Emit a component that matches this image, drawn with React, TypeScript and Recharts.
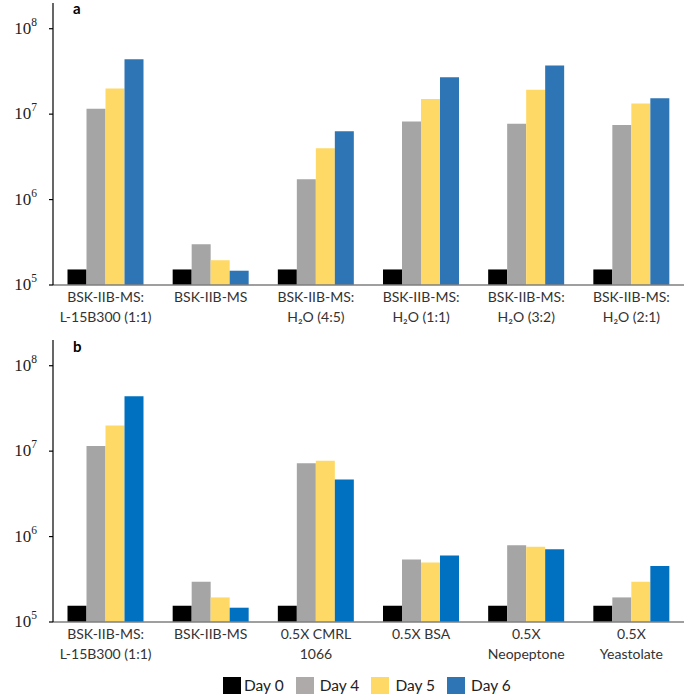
import React from "react";
import { BarChart, Bar, XAxis, YAxis } from "recharts";

const categoriesA = [
  "BSK-IIB-MS:\nL-15B300 (1:1)",
  "BSK-IIB-MS",
  "BSK-IIB-MS:\nH₂O (4:5)",
  "BSK-IIB-MS:\nH₂O (1:1)",
  "BSK-IIB-MS:\nH₂O (3:2)",
  "BSK-IIB-MS:\nH₂O (2:1)",
];
const day0A = [1.52e5, 1.52e5, 1.52e5, 1.52e5, 1.52e5, 1.52e5];
const day4A = [1.16e7, 3.0e5, 1.73e6, 8.2e6, 7.7e6, 7.45e6];
const day5A = [2.0e7, 1.95e5, 4.0e6, 1.5e7, 1.93e7, 1.33e7];
const day6A = [4.4e7, 1.47e5, 6.3e6, 2.7e7, 3.7e7, 1.53e7];

const categoriesB = [
  "BSK-IIB-MS:\nL-15B300 (1:1)",
  "BSK-IIB-MS",
  "0.5X CMRL\n1066",
  "0.5X BSA",
  "0.5X\nNeopeptone",
  "0.5X\nYeastolate",
];
const day0B = [1.55e5, 1.55e5, 1.55e5, 1.55e5, 1.55e5, 1.55e5];
const day4B = [1.15e7, 2.96e5, 7.2e6, 5.4e5, 7.9e5, 1.94e5];
const day5B = [2.0e7, 1.94e5, 7.7e6, 4.97e5, 7.6e5, 2.96e5];
const day6B = [4.4e7, 1.47e5, 4.66e6, 6.0e5, 7.1e5, 4.53e5];

const seriesNames = ["Day 0", "Day 4", "Day 5", "Day 6"];
const yDomain: [number, number] = [1e5, 2e8];
const majorTicks = [1e5, 1e6, 1e7, 1e8];
const minorMultipliers = [2, 3, 4, 5, 6, 7, 8, 9];

const minorTicks: number[] = [];
majorTicks.forEach((m) => {
  if (m < 1e8) minorMultipliers.forEach((k) => minorTicks.push(m * k));
});
minorTicks.push(2e8);

const COLORS = {
  d0: "#000000",
  d4: "#A5A5A5",
  d5: "#FFD966",
  d6a: "#2E75B6",
  d6b: "#0070C0",
};

const FONT = "Lato, 'Open Sans', sans-serif";

function build(cats: string[], d0: number[], d4: number[], d5: number[], d6: number[]) {
  return cats.map((name, i) => ({ name, d0: d0[i], d4: d4[i], d5: d5[i], d6: d6[i] }));
}

const renderYTick = (props: any) => {
  const { x, y, payload } = props;
  const exp = Math.round(Math.log10(Number(payload.value)));
  return (
    <text
      key={`yt-${payload.value}`}
      x={Number(x) - 12}
      y={Number(y) + 5}
      textAnchor="end"
      fontFamily="'Liberation Serif', 'DejaVu Serif', serif"
      fontSize={17}
      fill="#222"
    >
      10
      <tspan dy={-8} fontSize={11.5}>
        {exp}
      </tspan>
    </text>
  );
};

const renderXTick = (props: any) => {
  const { x, y, payload } = props;
  const lines = String(payload.value).split("\n");
  return (
    <text key={`xt-${payload.value}`} x={x} y={y} textAnchor="middle" fontFamily={FONT} fontSize={14} fill="#333">
      {lines.map((l, i) => (
        <tspan key={i} x={x} y={Number(y) + 17 + i * 20}>
          {l}
        </tspan>
      ))}
    </text>
  );
};

const Panel = ({ data, label, blue }: { data: any[]; label: string; blue: string }) => (
  <BarChart
    width={685}
    height={330}
    data={data}
    margin={{ top: 3, right: 1, bottom: 0, left: 0 }}
    barCategoryGap={14.5}
    barGap={0}
  >
    <XAxis
      dataKey="name"
      interval={0}
      tickLine={false}
      tick={renderXTick}
      height={45}
      axisLine={{ stroke: "#7F7F7F", strokeWidth: 1.5 }}
      tickSize={0}
      tickMargin={0}
    />
    <YAxis
      yAxisId="minor"
      scale="log"
      domain={yDomain}
      allowDataOverflow
      ticks={minorTicks}
      interval={0}
      width={0}
      mirror
      tick={false}
      tickSize={4}
      tickLine={{ stroke: "#000", strokeWidth: 1 }}
      axisLine={false}
    />
    <YAxis
      scale="log"
      domain={yDomain}
      allowDataOverflow
      ticks={majorTicks}
      interval={0}
      width={53}
      tickSize={4}
      tickMargin={0}
      tick={renderYTick}
      tickLine={{ stroke: "#000", strokeWidth: 1.2 }}
      axisLine={{ stroke: "#000", strokeWidth: 1.2 }}
    />
    <Bar dataKey="d0" name={seriesNames[0]} fill={COLORS.d0} isAnimationActive={false} />
    <Bar dataKey="d4" name={seriesNames[1]} fill={COLORS.d4} isAnimationActive={false} />
    <Bar dataKey="d5" name={seriesNames[2]} fill={COLORS.d5} isAnimationActive={false} />
    <Bar dataKey="d6" name={seriesNames[3]} fill={blue} isAnimationActive={false} />
    <text x={73} y={label === "a" ? 14 : 15} fontFamily={FONT} fontWeight="bold" fontSize={15} fill="#000">
      {label}
    </text>
  </BarChart>
);

const legendItems = [
  { name: seriesNames[0], color: COLORS.d0 },
  { name: seriesNames[1], color: "#AEAAAA" },
  { name: seriesNames[2], color: COLORS.d5 },
  { name: seriesNames[3], color: COLORS.d6a },
];

export default function App() {
  const dataA = build(categoriesA, day0A, day4A, day5A, day6A);
  const dataB = build(categoriesB, day0B, day4B, day5B, day6B);
  return (
    <div style={{ position: "absolute", left: 0, top: 0, width: 685, height: 697, background: "#fff" }}>
      <div style={{ position: "absolute", left: 0, top: 0 }}>
        <Panel data={dataA} label="a" blue={COLORS.d6a} />
      </div>
      <div style={{ position: "absolute", left: 0, top: 337 }}>
        <Panel data={dataB} label="b" blue={COLORS.d6b} />
      </div>
      <div
        style={{
          position: "absolute",
          left: 223,
          top: 676,
          display: "flex",
          alignItems: "center",
          fontFamily: FONT,
          fontSize: 15.5,
          color: "#222",
          whiteSpace: "nowrap",
        }}
      >
        {legendItems.map((it, i) => (
          <div key={i} style={{ display: "flex", alignItems: "center", marginRight: 12 }}>
            <span style={{ display: "inline-block", width: 18, height: 17, background: it.color, marginRight: i === 0 ? 3 : 6 }} />
            <span>{it.name}</span>
          </div>
        ))}
      </div>
    </div>
  );
}
